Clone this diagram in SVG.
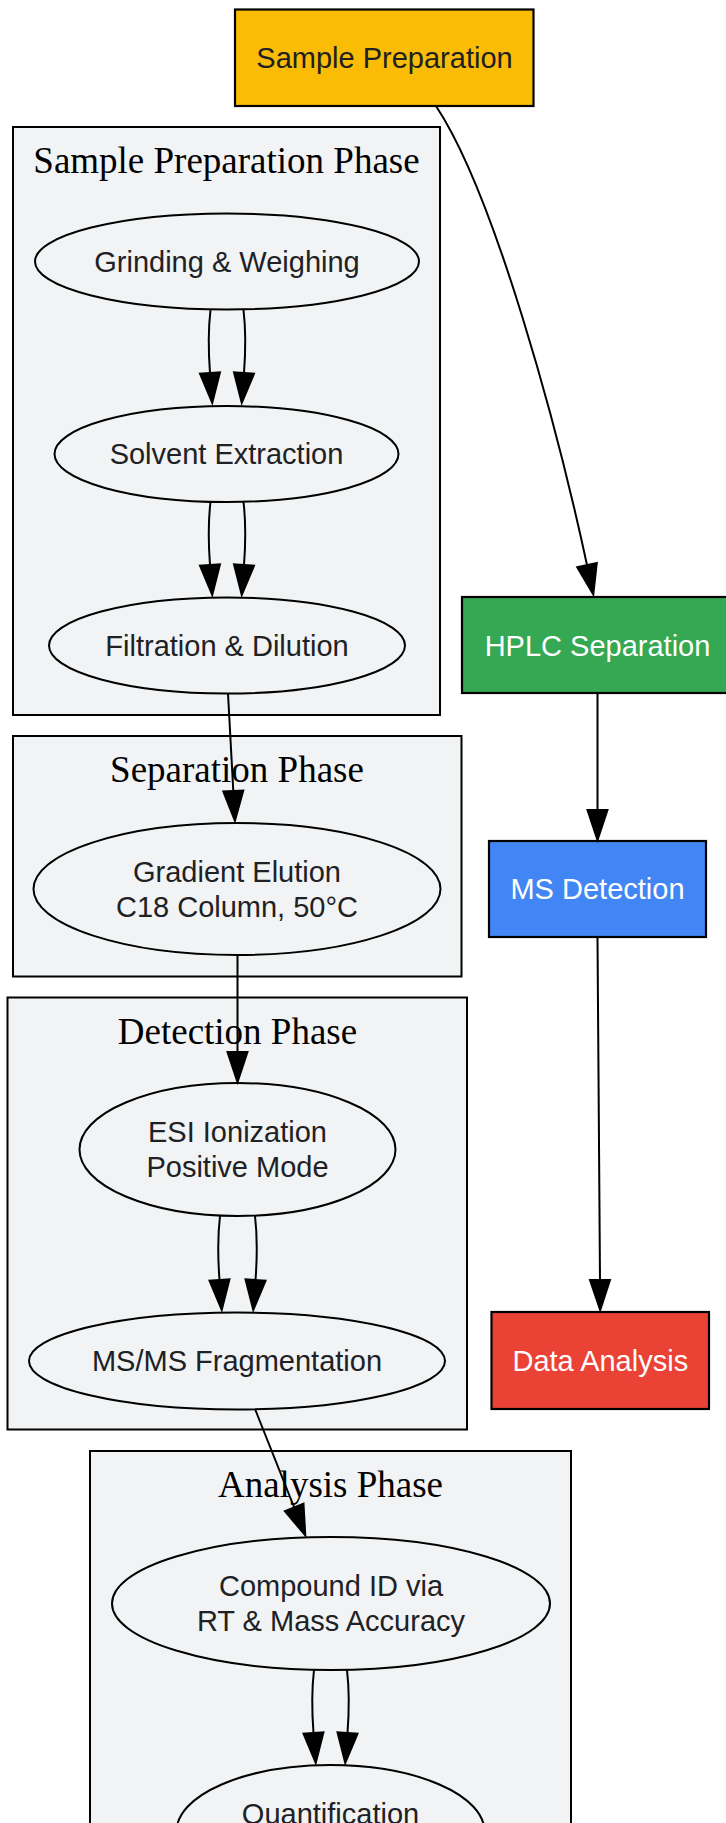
<svg xmlns="http://www.w3.org/2000/svg" width="726" height="1823" viewBox="0 0 726 1823">
<defs>
<style>
.cluster{fill:#F1F3F4;stroke:#000;stroke-width:2}
.ctitle{font-family:"Liberation Serif","Times New Roman",serif;font-size:37px;fill:#000;text-anchor:middle}
.node{fill:#F1F3F4;stroke:#000;stroke-width:2}
.box{stroke:#000;stroke-width:2.2}
.lbl{font-family:"Liberation Sans",Arial,sans-serif;font-size:29px;fill:#202124;text-anchor:middle}
.wlbl{font-family:"Liberation Sans",Arial,sans-serif;font-size:29px;fill:#FFFFFF;text-anchor:middle}
.edge{fill:none;stroke:#000;stroke-width:2;marker-end:url(#arr)}
</style>
<marker id="arr" markerUnits="userSpaceOnUse" markerWidth="34" markerHeight="24" refX="0" refY="11" orient="auto" overflow="visible">
<path d="M0,1 L30,11 L0,21 Z" fill="#000" stroke="#000" stroke-width="2" stroke-linejoin="miter"/>
</marker>
</defs>
<rect width="726" height="1823" fill="#FFFFFF"/>

<g id="cluster_prep">
<rect class="cluster" x="13" y="127" width="427" height="588"/>
<text class="ctitle" x="226.5" y="173">Sample Preparation Phase</text>
</g>
<g id="cluster_sep">
<rect class="cluster" x="13" y="736" width="448.5" height="240.5"/>
<text class="ctitle" x="237" y="782">Separation Phase</text>
</g>
<g id="cluster_det">
<rect class="cluster" x="7.5" y="997.5" width="459.5" height="432"/>
<text class="ctitle" x="237.5" y="1043.5">Detection Phase</text>
</g>
<g id="cluster_ana">
<rect class="cluster" x="90" y="1451" width="481" height="420"/>
<text class="ctitle" x="330.5" y="1497">Analysis Phase</text>
</g>

<g id="node_sample_prep">
<rect class="box" x="235" y="9.5" width="298.5" height="96.5" fill="#FBBC05"/>
<text class="lbl" x="384.5" y="68">Sample Preparation</text>
</g>
<g id="node_grinding">
<ellipse class="node" cx="227" cy="261.5" rx="192" ry="48"/>
<text class="lbl" x="227" y="271.5">Grinding &amp; Weighing</text>
</g>
<g id="node_solvent">
<ellipse class="node" cx="226.5" cy="454" rx="172" ry="48"/>
<text class="lbl" x="226.5" y="464">Solvent Extraction</text>
</g>
<g id="node_filtration">
<ellipse class="node" cx="227" cy="645.5" rx="178" ry="48"/>
<text class="lbl" x="227" y="655.5">Filtration &amp; Dilution</text>
</g>
<g id="node_hplc">
<rect class="box" x="462" y="597" width="272" height="96" fill="#34A853"/>
<text class="wlbl" x="597.5" y="656">HPLC Separation</text>
</g>
<g id="node_gradient">
<ellipse class="node" cx="237" cy="889" rx="203.5" ry="66"/>
<text class="lbl" x="237" y="881.5">Gradient Elution</text>
<text class="lbl" x="237" y="916.5">C18 Column, 50°C</text>
</g>
<g id="node_ms_detection">
<rect class="box" x="489" y="841" width="217" height="96" fill="#4285F4"/>
<text class="wlbl" x="597.5" y="899">MS Detection</text>
</g>
<g id="node_esi">
<ellipse class="node" cx="237.5" cy="1149.5" rx="158" ry="66.5"/>
<text class="lbl" x="237.5" y="1142">ESI Ionization</text>
<text class="lbl" x="237.5" y="1177">Positive Mode</text>
</g>
<g id="node_msms">
<ellipse class="node" cx="237" cy="1361" rx="208" ry="48.5"/>
<text class="lbl" x="237" y="1370.5">MS/MS Fragmentation</text>
</g>
<g id="node_data_analysis">
<rect class="box" x="491.5" y="1312" width="217.5" height="97" fill="#EA4335"/>
<text class="wlbl" x="600.3" y="1370.5">Data Analysis</text>
</g>
<g id="node_compound">
<ellipse class="node" cx="331" cy="1603.5" rx="219" ry="66.5"/>
<text class="lbl" x="331" y="1596">Compound ID via</text>
<text class="lbl" x="331" y="1631">RT &amp; Mass Accuracy</text>
</g>
<g id="node_quant">
<ellipse class="node" cx="330.5" cy="1831.5" rx="154" ry="66.5"/>
<text class="lbl" x="330.5" y="1824">Quantification</text>
</g>

<g id="edges">
<path class="edge" d="M436,106 C495,195 558,430 587,565"/>
<path class="edge" d="M597.5,693 L597.5,810"/>
<path class="edge" d="M597.5,937 L600,1280"/>

<path class="edge" d="M210.5,310 C207.5,335 208.5,353 210,373"/>
<path class="edge" d="M243.5,310 C246.5,335 245.5,353 244,373"/>
<path class="edge" d="M210.5,502 C207.5,527 208.5,545 210,565"/>
<path class="edge" d="M243.5,502 C246.5,527 245.5,545 244,565"/>

<path class="edge" d="M228,693.5 L233.3,791"/>
<path class="edge" d="M237.5,955 L237.5,1052"/>

<path class="edge" d="M220,1216 C217,1241 218,1260 219.5,1280"/>
<path class="edge" d="M255,1216 C258,1241 257,1260 255.5,1280"/>

<path class="edge" d="M255,1409 L294.2,1507.5"/>

<path class="edge" d="M314,1670 C311,1695 312,1713 313.5,1733"/>
<path class="edge" d="M347,1670 C350,1695 349,1713 347.5,1733"/>
</g>
</svg>
